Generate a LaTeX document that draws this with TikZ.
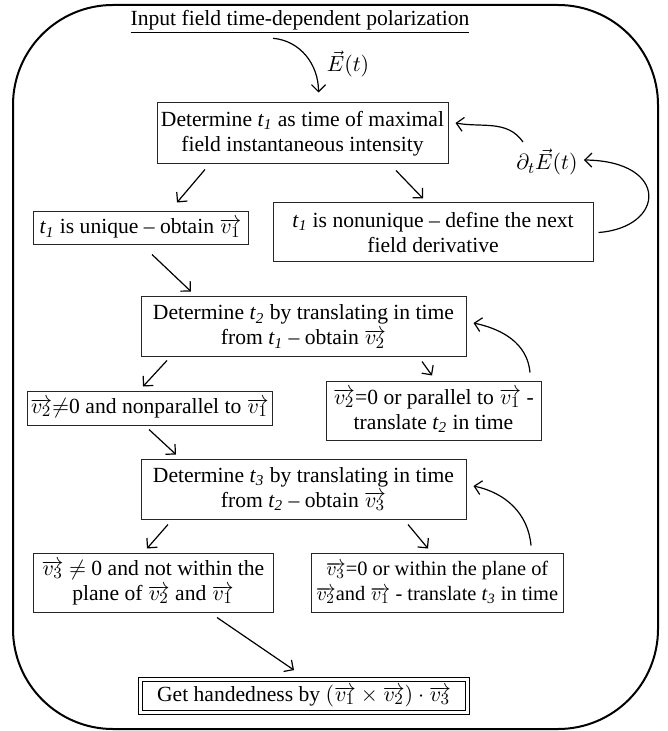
\documentclass[tikz,border=0pt]{standalone}
\usepackage{fontspec}
\setmainfont{Liberation Serif}
\usetikzlibrary{arrows.meta,calc}
\newcommand\fsz{\fontsize{10.8}{12.5}\selectfont}
\newcommand\tsub[1]{\textit{t}\textsubscript{\textit{#1}}}
\newcommand\vvec[1]{$\overrightarrow{v_{#1}}$}
\tikzset{
 box/.style={draw=black!85, line width=0.5pt, inner sep=0pt, align=center, font=\fsz},
 arr/.style={-{Straight Barb[length=3.5pt,width=7pt]}, line width=0.6pt},
 lbl/.style={inner sep=0pt, font=\fsz},
}
\begin{document}
\begin{tikzpicture}[x=0.5pt,y=-0.5pt]
\useasboundingbox (0,0) rectangle (667,731);
% frame
\draw[line width=1pt, rounded corners=50pt] (13,5) rectangle (658,729);
% title
\node[lbl] (title) at (300,22) {\underline{Input field time-dependent polarization}};
\node[lbl] (Et) at (348,64) {$\vec{E}(t)$};
\node[lbl] (dE) at (547,162) {$\partial_t\vec{E}(t)$};
% boxes
\node[box, minimum width=145.5pt, minimum height=30.5pt] (b1) at (302.5,133.5)
 {Determine \tsub{1} as time of maximal\\field instantaneous intensity};
\node[box, minimum width=107.5pt, minimum height=16.5pt] (uni) at (140.5,228.5)
 {\tsub{1} is unique -- obtain \vvec{1}};
\node[box, minimum width=160pt, minimum height=29.5pt] (non) at (433,232.5)
 {\tsub{1} is nonunique -- define the next\\field derivative};
\node[box, minimum width=162.5pt, minimum height=29.5pt] (t2) at (303.5,326.5)
 {Determine \tsub{2} by translating in time\\from \tsub{1} -- obtain \vvec{2}};
\node[box, minimum width=122.5pt, minimum height=17pt] (v2n) at (149.5,408)
 {\vvec{2}$\neq$0 and nonparallel to \vvec{1}};
\node[box, minimum width=107.5pt, minimum height=29.5pt] (v2z) at (433.5,410.5)
 {\vvec{2}=0 or parallel to \vvec{1} -\\translate \tsub{2} in time};
\node[box, minimum width=162.5pt, minimum height=30pt] (t3) at (303.5,489)
 {Determine \tsub{3} by translating in time\\from \tsub{2} -- obtain \vvec{3}};
\node[box, minimum width=120pt, minimum height=29.5pt] (v3n) at (153,582.5)
 {\vvec{3} $\neq$ 0 and not within the\\plane of \vvec{2} and \vvec{1}};
\node[box, minimum width=126pt, minimum height=29.5pt, font=\fontsize{10.2}{12.5}\selectfont] (v3z) at (437,582.5)
 {\vvec{3}=0 or within the plane of\\\vvec{2}and \vvec{1} - translate \tsub{3} in time};
\node[box, draw=black, line width=0.6pt, double, double distance=1.5pt,
 minimum width=163.3pt, minimum height=16.3pt] (hand) at (304,696)
 {Get handedness by $(\overrightarrow{v_1}\times\overrightarrow{v_2})\cdot\overrightarrow{v_3}$};
% arrows
\draw[arr] ([shift={(-27,4)}]title.south) to[out=-5,in=90] ([shift={(16,-10)}]b1.north);
\draw[arr] ([shift={(-97.5,5)}]b1.south) -- ([shift={(36.5,-9)}]uni.north);
\draw[arr] ([shift={(93.5,6)}]b1.south) -- ([shift={(-10,-4)}]non.north);
\draw[arr] ([shift={(11.5,9)}]uni.south) -- ([shift={(-112.5,-5)}]t2.north);
\draw[arr] ([shift={(-136.5,4)}]t2.south) -- ([shift={(-6.5,-4)}]v2n.north);
\draw[arr] ([shift={(118.5,5)}]t2.south) -- ([shift={(-1.5,-5)}]v2z.north);
\draw[arr] ([shift={(-0.5,4)}]v2n.south) -- ([shift={(-127.5,-4)}]t3.north);
\draw[arr] ([shift={(-135.5,5)}]t3.south) -- ([shift={(-6,-4)}]v3n.north);
\draw[arr] ([shift={(104.5,5)}]t3.south) -- ([shift={(-9,-4)}]v3z.north);
\draw[arr] ([shift={(64,5)}]v3n.south) -- ([shift={(-10,-9)}]hand.north);
% loops
\draw[arr] ([shift={(-24,-20)}]dE.center) to[out=125,in=-10] ([shift={(7,-10.5)}]b1.east);
\draw[arr] ([shift={(5,0)}]non.east) .. controls +(67,-5) and +(86,1) .. ([shift={(6,-2)}]dE.east);
\draw[arr] ([shift={(96.5,-8)}]v2z.north) to[out=95,in=-12] ([shift={(7,-3.5)}]t2.east);
\draw[arr] ([shift={(94,-7)}]v3z.north) to[out=95,in=-12] ([shift={(7,-3)}]t3.east);
\end{tikzpicture}
\end{document}
